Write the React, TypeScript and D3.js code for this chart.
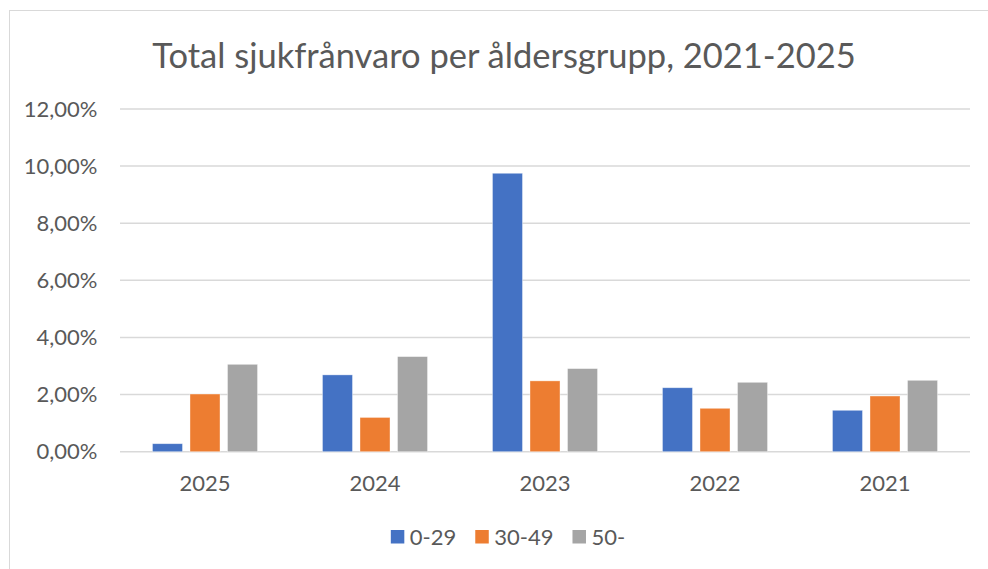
import React, { useRef, useEffect } from "react";
import * as d3 from "d3";

const years = ["2025", "2024", "2023", "2022", "2021"];
const groups = ["0-29", "30-49", "50-"];
const colors = ["#4472C4", "#ED7D31", "#A5A5A5"];
const young = [0.28, 2.69, 9.75, 2.24, 1.45];
const middle = [2.02, 1.2, 2.48, 1.52, 1.95];
const senior = [3.06, 3.33, 2.91, 2.43, 2.5];
const yTicks = [0, 2, 4, 6, 8, 10, 12];
const title = "Total sjukfrånvaro per åldersgrupp, 2021-2025";

const W = 988;
const H = 569;
const FONT = "Lato, 'Open Sans', sans-serif";
const TEXT = "#595959";

const App = () => {
  const svgRef = useRef<SVGSVGElement>(null);

  useEffect(() => {
    const svg = d3.select(svgRef.current);
    svg.selectAll("*").remove();

    const series = [young, middle, senior];
    const left = 120, right = 970, top = 109, bottom = 451.7;

    const x0 = d3.scaleBand().domain(years).range([left, right])
      .paddingInner(0.382).paddingOuter(0.191);
    const x1 = d3.scaleBand().domain(groups).range([0, x0.bandwidth()]).paddingInner(0.2);
    const y = d3.scaleLinear().domain([0, 12]).range([bottom, top]);

    // chart frame
    svg.append("rect")
      .attr("x", 9.5).attr("y", 10.5)
      .attr("width", 1010).attr("height", 600)
      .attr("fill", "#fff").attr("stroke", "#D9D9D9");

    svg.append("text")
      .attr("x", 504).attr("y", 68)
      .attr("text-anchor", "middle")
      .attr("font-size", 34.5)
      .attr("fill", TEXT)
      .text(title);

    // gridlines
    svg.append("g")
      .selectAll("line")
      .data(yTicks)
      .join("line")
      .attr("x1", left).attr("x2", right)
      .attr("y1", d => y(d)).attr("y2", d => y(d))
      .attr("stroke", "#D9D9D9").attr("stroke-width", 1.5);

    svg.append("g")
      .selectAll("text")
      .data(yTicks)
      .join("text")
      .attr("x", 97.5).attr("y", d => y(d))
      .attr("dy", "0.35em")
      .attr("text-anchor", "end")
      .attr("font-size", 22)
      .attr("fill", TEXT)
      .text(d => d3.format(".2f")(d).replace(".", ",") + "%");

    // bars
    const bars = svg.append("g");
    years.forEach((yr, i) => {
      bars.selectAll(`.b${i}`)
        .data(groups.map((g, k) => ({ g, k, v: series[k][i] })))
        .join("rect")
        .attr("class", `b${i}`)
        .attr("x", d => x0(yr)! + x1(d.g)!)
        .attr("width", x1.bandwidth())
        .attr("y", d => y(d.v))
        .attr("height", d => bottom - y(d.v))
        .attr("fill", d => colors[d.k])
        .attr("stroke", "#fff").attr("stroke-opacity", 0.5).attr("stroke-width", 0.75);
    });

    // x labels
    svg.append("g")
      .selectAll("text")
      .data(years)
      .join("text")
      .attr("x", d => x0(d)! + x0.bandwidth() / 2)
      .attr("y", 491)
      .attr("text-anchor", "middle")
      .attr("font-size", 22)
      .attr("fill", TEXT)
      .text(d => d);

    // legend
    const legend = svg.append("g");
    const items = groups.map((g, k) => {
      const gi = legend.append("g");
      gi.append("rect").attr("width", 13.5).attr("height", 13.5)
        .attr("y", 530).attr("fill", colors[k]);
      const t = gi.append("text").attr("x", 19).attr("y", 544.5)
        .attr("font-size", 22).attr("fill", TEXT).text(g);
      const w = 19 + (t.node() as SVGTextElement).getComputedTextLength();
      return { gi, w };
    });
    const gap = 19;
    const total = d3.sum(items, d => d.w) + gap * (items.length - 1);
    let cx = 508 - total / 2;
    items.forEach(it => {
      it.gi.attr("transform", `translate(${cx},0)`);
      cx += it.w + gap;
    });
  }, []);

  return (
    <svg
      ref={svgRef}
      width={W}
      height={H}
      style={{ position: "absolute", left: 0, top: 0, fontFamily: FONT, background: "#fff" }}
    />
  );
};

export default App;
